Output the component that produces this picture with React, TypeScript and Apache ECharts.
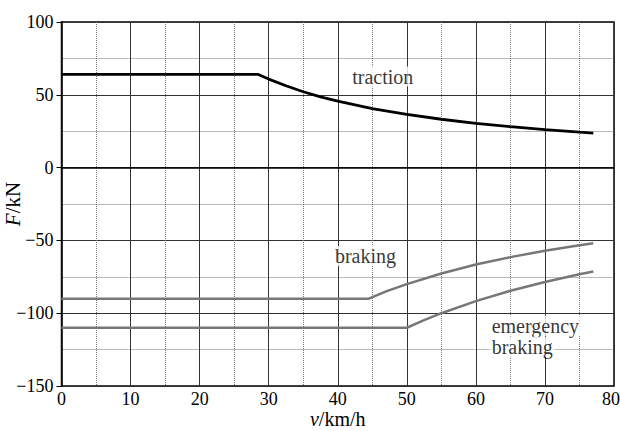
import React, { useEffect, useRef } from "react";
import * as echarts from "echarts";

const tractionV = [0, 28.5, 30, 32.5, 35, 37.5, 40, 45, 50, 55, 60, 65, 70, 75, 77];
const tractionF = [64, 64, 60.8, 56.2, 52.1, 48.6, 45.6, 40.5, 36.5, 33.2, 30.4, 28.1, 26.1, 24.3, 23.7];

const brakingV = [0, 44.5, 47, 50, 55, 60, 65, 70, 75, 77];
const brakingF = [-90, -90, -85, -80, -72.7, -66.6, -61.5, -57.1, -53.3, -52];

const emergencyV = [0, 50, 52.5, 55, 60, 65, 70, 75, 77];
const emergencyF = [-110, -110, -104.8, -100, -91.7, -84.6, -78.6, -73.3, -71.4];

const labelTexts = ["traction", "braking", "emergency", "braking"];
const labelX = [41.8, 39.3, 62.0, 62.0];
const labelY = [62.5, -60.8, -108.6, -123.0];

const FONT = "'Liberation Serif', 'Times New Roman', serif";

export default function App() {
  const ref = useRef<HTMLDivElement>(null);
  useEffect(() => {
    if (!ref.current) return;
    const chart = echarts.init(ref.current, null, { renderer: "svg" });
    const zip = (a: number[], b: number[]) => a.map((v, i) => [v, b[i]]);
    chart.setOption({
      animation: false,
      backgroundColor: "#fff",
      textStyle: { fontFamily: FONT },
      grid: {
        left: 61.5,
        right: 6,
        top: 22,
        bottom: 45,
        outerBoundsMode: "none",
        containLabel: false,
        show: true,
        borderColor: "#000",
        borderWidth: 1.5,
        backgroundColor: "transparent",
      },
      xAxis: {
        type: "value",
        min: 0,
        max: 80,
        interval: 10,
        name: "{i|v}/km/h",
        nameLocation: "middle",
        nameGap: 24,
        nameMoveOverlap: false,
        nameTextStyle: {
          fontFamily: FONT,
          fontSize: 20,
          lineHeight: 18,
          color: "#000",
          rich: {
            i: { fontStyle: "italic", fontFamily: FONT, fontSize: 20, lineHeight: 18, color: "#000" },
          },
        },
        axisLine: { show: true, lineStyle: { color: "#000", width: 1.5 } },
        axisTick: { show: false },
        axisLabel: {
          fontFamily: FONT,
          fontSize: 18,
          lineHeight: 16,
          color: "#000",
          margin: 5,
          formatter: (v: number) => (v === 80 ? "{r|80}" : String(v)),
          rich: {
            r: { fontFamily: FONT, fontSize: 18, lineHeight: 16, color: "#000", padding: [0, 6, 0, 0] },
          },
        },
        splitLine: { show: true, lineStyle: { color: "#333", width: 1 } },
        minorTick: { show: false, splitNumber: 2 },
        minorSplitLine: { show: true, lineStyle: { color: "#777", width: 1, type: "dotted" } },
      },
      yAxis: {
        type: "value",
        min: -150,
        max: 100,
        interval: 50,
        name: "{i|F}/kN",
        nameLocation: "middle",
        nameRotate: 90,
        nameGap: 39,
        nameMoveOverlap: false,
        nameTextStyle: {
          fontFamily: FONT,
          fontSize: 21,
          lineHeight: 20,
          color: "#000",
          rich: { i: { fontStyle: "italic", fontFamily: FONT, fontSize: 21, lineHeight: 20, color: "#000" } },
        },
        axisLine: { show: true, lineStyle: { color: "#000", width: 1.5 } },
        axisTick: { show: true, inside: false, length: 5, lineStyle: { color: "#000" } },
        axisLabel: {
          fontFamily: FONT,
          fontSize: 18,
          color: "#000",
          margin: 8,
          formatter: (v: number) => String(v).replace("-", "\u2212"),
        },
        splitLine: { show: true, lineStyle: { color: "#333", width: 1 } },
        minorTick: { show: false, splitNumber: 2 },
        minorSplitLine: { show: true, lineStyle: { color: "#777", width: 1, type: "dotted" } },
      },
      series: [
        {
          type: "line",
          name: "traction",
          data: zip(tractionV, tractionF),
          showSymbol: false,
          symbol: "none",
          lineStyle: { color: "#000", width: 2.8 },
          z: 3,
        },
        {
          type: "line",
          name: "braking",
          data: zip(brakingV, brakingF),
          showSymbol: false,
          symbol: "none",
          lineStyle: { color: "#777", width: 2.5 },
          z: 3,
        },
        {
          type: "line",
          name: "emergency braking",
          data: zip(emergencyV, emergencyF),
          showSymbol: false,
          symbol: "none",
          lineStyle: { color: "#777", width: 2.5 },
          z: 3,
        },
        {
          type: "scatter",
          symbolSize: 0,
          silent: true,
          z: 4,
          data: labelTexts.map((t, i) => [labelX[i], labelY[i], t]),
          label: {
            show: true,
            position: [0, 0],
            align: "left",
            verticalAlign: "middle",
            formatter: (p: any) => p.value[2],
            fontFamily: FONT,
            fontSize: 20,
            color: "#000",
            backgroundColor: "#fff",
            padding: [0, 2],
          },
        },
      ],
    });
    return () => chart.dispose();
  }, []);
  return (
    <div
      ref={ref}
      style={{ position: "fixed", left: 0, top: 0, width: 620, height: 431 }}
    />
  );
}
